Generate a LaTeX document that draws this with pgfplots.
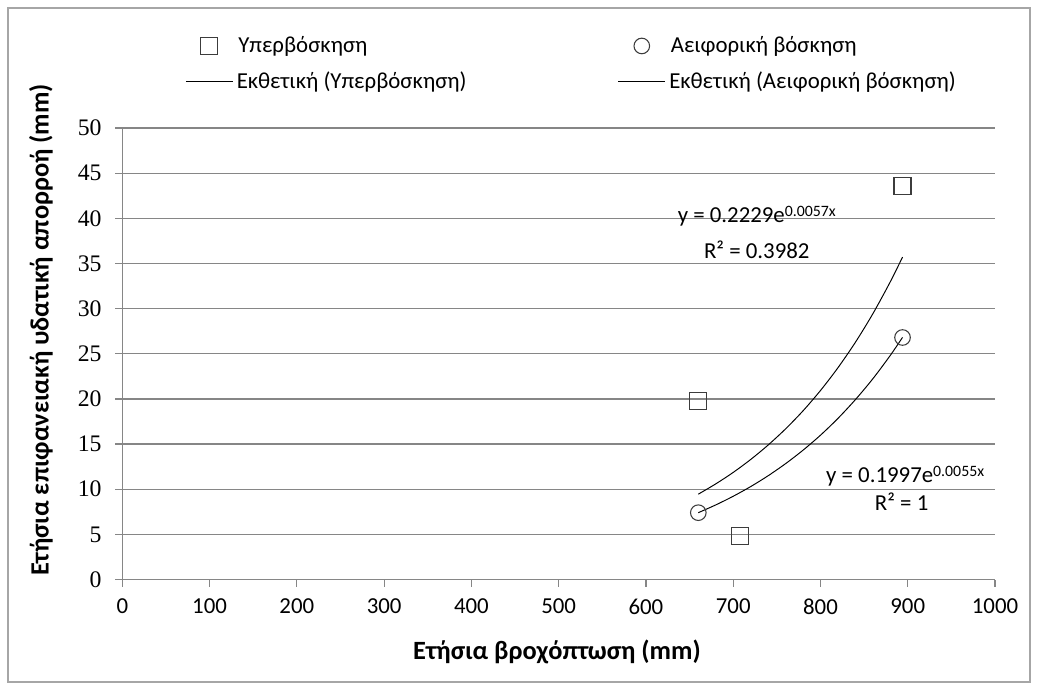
\documentclass[border=0pt]{standalone}
\usepackage{pgfplots}
\pgfplotsset{compat=1.18}
\usepackage{fontspec}
\setmainfont{Carlito}
\newfontfamily\numserif{Liberation Serif}
\definecolor{gridgray}{RGB}{134,134,134}
\definecolor{markgray}{RGB}{60,60,60}

\pgfplotstableread{
x y
660 19.8
708 4.85
894 43.6
}\overgrazing
\pgfplotstableread{
x y
660 7.4
894 26.8
}\sustainable
\pgfplotstableread{
x y
660 9.45
680 10.59
700 11.86
720 13.29
740 14.89
760 16.68
780 18.68
800 20.93
820 23.45
840 26.27
860 29.43
880 32.97
894 35.70
}\trendover
\pgfplotstableread{
x y
660 7.40
680 8.26
700 9.22
720 10.29
740 11.49
760 12.83
780 14.32
800 15.98
820 17.84
840 19.92
860 22.23
880 24.82
894 26.81
}\trendsust

\begin{document}
\begin{tikzpicture}[x=0.2mm,y=-0.2mm]
\path[fill=white] (0,0) rectangle (1038,690);
\draw[color=black!35, line width=0.8pt] (8,8) rectangle (1030,682);
\begin{axis}[
  at={(24.46mm,-115.9mm)}, anchor=south west,
  scale only axis, width=174.54mm, height=90.3mm,
  xmin=0, xmax=1000, ymin=0, ymax=50,
  xtick={0,100,...,1000}, ytick={0,5,...,50},
  /pgf/number format/1000 sep={},
  axis lines*=left,
  axis line style={gridgray, line width=0.7pt},
  ymajorgrids, grid style={gridgray, line width=0.7pt},
  tick align=outside, major tick length=1.4mm,
  tick style={gridgray, line width=0.7pt},
  /pgf/number format/assume math mode=true,
  xticklabel style={font=\fontsize{13}{13}\selectfont, yshift=-1.2mm},
  yticklabel style={font=\numserif\fontsize{13.5}{13.5}\selectfont, xshift=-1.5mm},
  clip=false,
  legend columns=2,
  legend cell align=left,
  legend style={at={(axis description cs:0.0718,1.211)}, anchor=north west,
    draw=none, fill=none, font=\fontsize{13}{15}\selectfont,
    row sep=5.3pt, inner sep=0pt,
    /tikz/every even column/.append style={column sep=0pt}},
]
\addplot[only marks, mark=square, mark size=1.7mm,
  mark options={draw=markgray, fill=white, line width=0.6pt},
  legend image code/.code={\draw[mark repeat=2,mark phase=2] plot coordinates {(0mm,0mm) (4.7mm,0mm) (9.4mm,0mm)};}]
  table[x=x,y=y] {\overgrazing};
\addlegendentry{\makebox[75.5mm][l]{\hspace{0.3mm}Υπερβόσκηση}}
\addplot[only marks, mark=o, mark size=1.56mm,
  mark options={draw=markgray, fill=white, line width=0.6pt},
  legend image code/.code={\draw[mark repeat=2,mark phase=2] plot coordinates {(0mm,0mm) (4.7mm,0mm) (9.4mm,0mm)};}]
  table[x=x,y=y] {\sustainable};
\addlegendentry{\hspace{0.3mm}Αειφορική βόσκηση}
\addplot[black, line width=0.55pt, smooth, no marks,
  legend image code/.code={\draw[black, line width=0.55pt] (0mm,0mm) -- (9.4mm,0mm);}]
  table[x=x,y=y] {\trendover};
\addlegendentry{\makebox[75.5mm][l]{Εκθετική (Υπερβόσκηση)}}
\addplot[black, line width=0.55pt, smooth, no marks,
  legend image code/.code={\draw[black, line width=0.55pt] (0mm,0mm) -- (9.4mm,0mm);}]
  table[x=x,y=y] {\trendsust};
\addlegendentry{Εκθετική (Αειφορική βόσκηση)}

\node[font=\fontsize{13}{13}\selectfont] at (axis cs:727,40.25)
  {y = 0.2229e\raisebox{0.55ex}{\fontsize{9}{9}\selectfont 0.0057x}};
\node[font=\fontsize{13}{13}\selectfont] at (axis cs:727,36.5) {R² = 0.3982};
\node[font=\fontsize{13}{13}\selectfont] at (axis cs:897,11.4)
  {y = 0.1997e\raisebox{0.55ex}{\fontsize{9}{9}\selectfont 0.0055x}};
\node[font=\fontsize{13}{13}\selectfont] at (axis cs:893,8.6) {R² = 1};
\end{axis}
\node[rotate=90, font=\bfseries\fontsize{15}{15}\selectfont] at (41,330)
  {Ετήσια επιφανειακή υδατική απορροή (mm)};
\node[font=\bfseries\fontsize{15}{15}\selectfont] at (557,652)
  {Ετήσια βροχόπτωση (mm)};
\end{tikzpicture}
\end{document}
